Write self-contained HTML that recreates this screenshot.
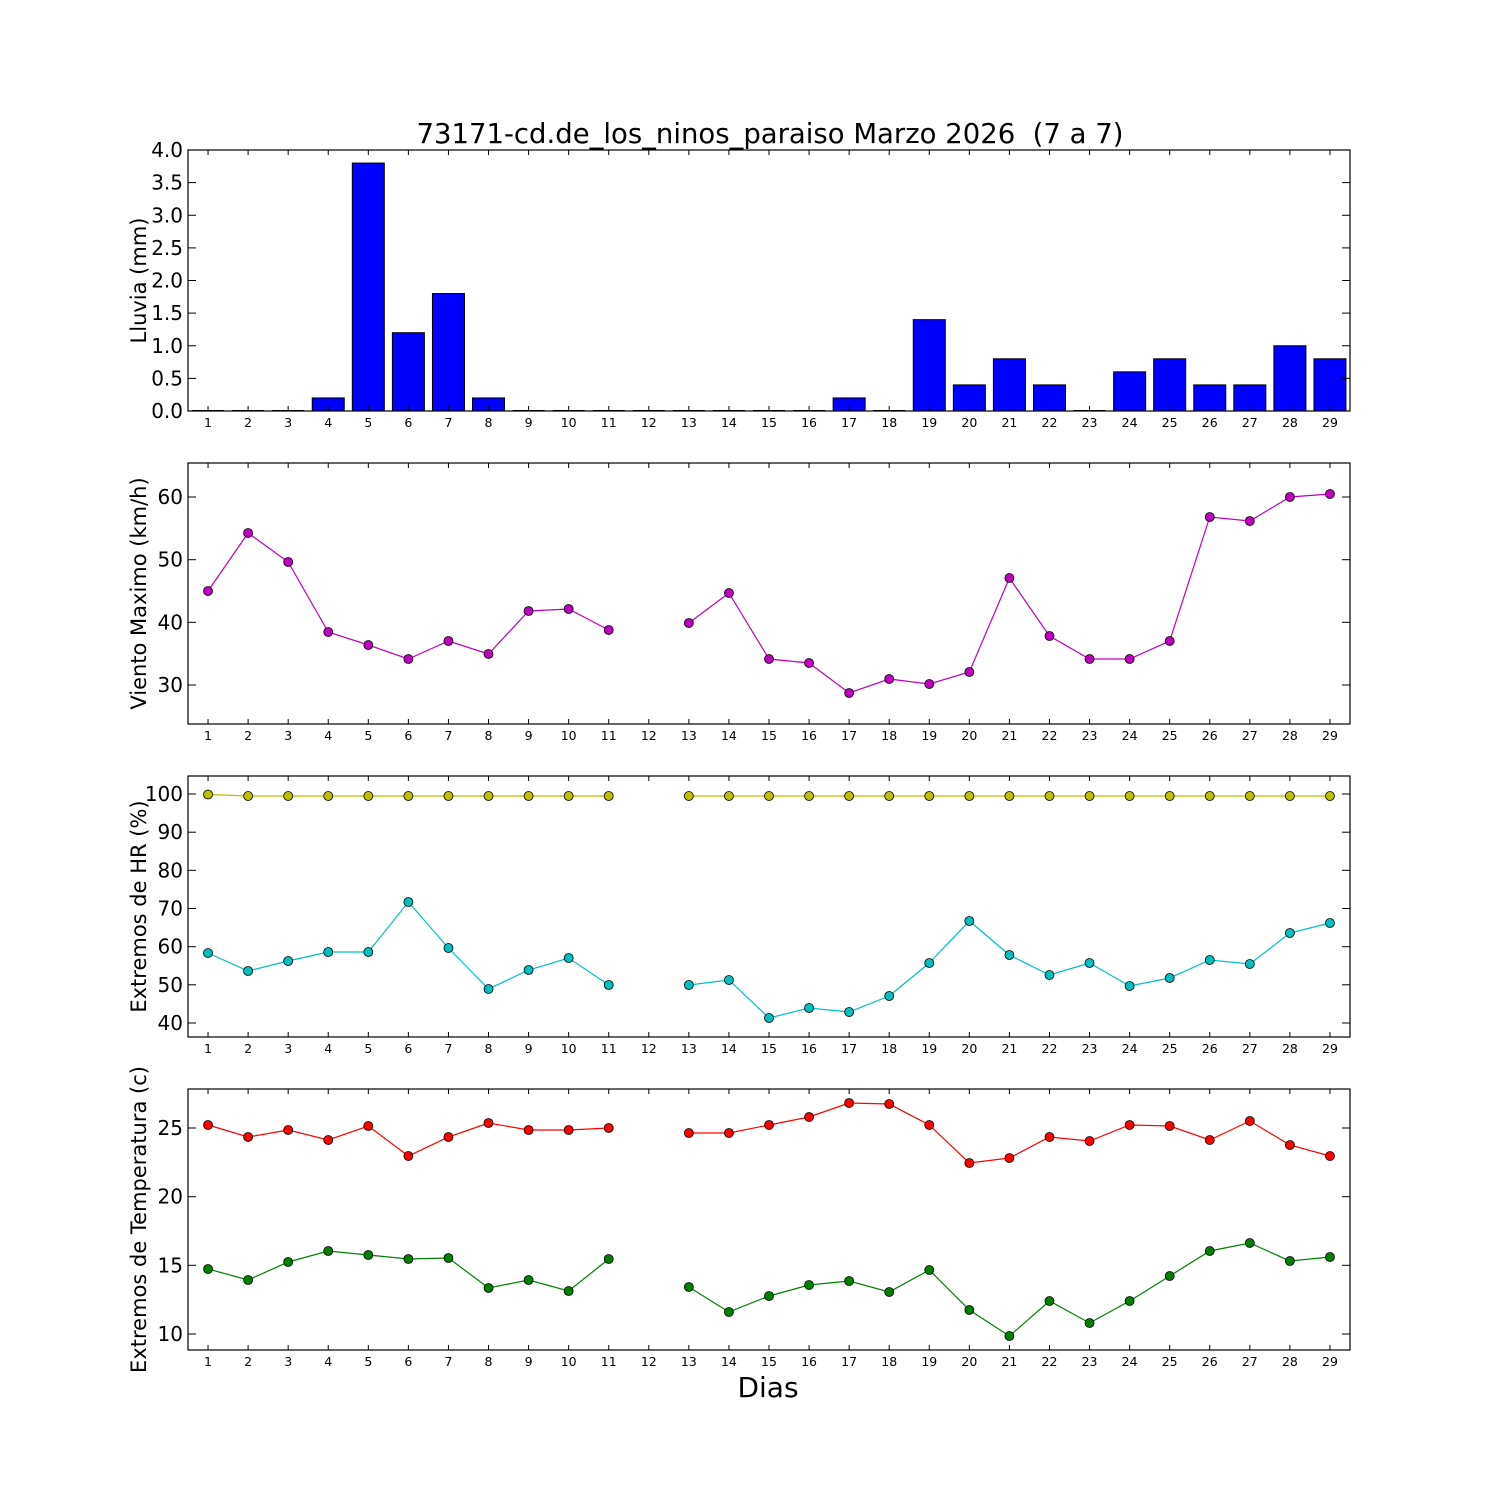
<!DOCTYPE html>
<html><head><meta charset="utf-8"><style>body{margin:0;background:#fff}svg{display:block}</style></head>
<body><svg id="s" width="1500" height="1500" xmlns="http://www.w3.org/2000/svg" font-family="DejaVu Sans, Liberation Sans, sans-serif"></svg>
<script>
var s=document.getElementById('s'),h='';
function X(d){return 188+(d-0.5)*1162/29;}
var panels=[[150,411],[463,724],[776,1037],[1089,1350]];
h+='<text x="770" y="143" font-size="27.5" text-anchor="middle" style="white-space:pre">73171-cd.de_los_ninos_paraiso Marzo 2026&#160; (7 a 7)</text>';
var rain=[0,0,0,0.2,3.8,1.2,1.8,0.2,0,0,0,0,0,0,0,0,0.2,0,1.4,0.4,0.8,0.4,0,0.6,0.8,0.4,0.4,1.0,0.8];
rain.forEach(function(v,i){var x=X(i+1)-16,y=411-v*65.25;if(v==0){h+='<line x1="'+x+'" y1="410.5" x2="'+(x+32)+'" y2="410.5" stroke="#000"/>';}else h+='<rect x="'+x+'" y="'+y+'" width="32" height="'+(411-y)+'" fill="#0000ff" stroke="#000" stroke-width="1"/>';});
function series(arr,panel,col){var seg=[];var out='';var pts=[];
 arr.forEach(function(v,i){if(v==null){if(pts.length)seg.push(pts);pts=[];}else pts.push([X(i+1),v]);});if(pts.length)seg.push(pts);
 seg.forEach(function(sg){out+='<polyline fill="none" stroke="'+col+'" stroke-width="1.2" points="'+sg.map(function(q){return q[0]+','+q[1]}).join(' ')+'"/>';});
 seg.forEach(function(sg){sg.forEach(function(q){out+='<circle cx="'+q[0]+'" cy="'+q[1]+'" r="4.5" fill="'+col+'" stroke="#000" stroke-width="0.8"/>';});});
 h+=out;}
var n=null;
series([591,533,562,632,645,659,641,654,611,609,630,n,623,593,659,663,693,679,684,672,578,636,659,659,641,517,521,497,494],1,'#bf00bf');
series([794.5,796,796,796,796,796,796,796,796,796,796,n,796,796,796,796,796,796,796,796,796,796,796,796,796,796,796,796,796],2,'#bfbf00');
series([953,971,961,952,952,902,948,989,970,958,985,n,985,980,1018,1008,1012,996,963,921,955,975,963,986,978,960,964,933,923],2,'#00bfbf');
series([1125,1137,1130,1140,1126,1156,1137,1123,1130,1130,1128,n,1133,1133,1125,1117,1103,1104,1125,1163,1158,1137,1141,1125,1126,1140,1121,1145,1156],3,'#ff0000');
series([1269,1280,1262,1251,1255,1259,1258,1288,1280,1291,1259,n,1287,1312,1296,1285,1281,1292,1270,1310,1336,1301,1323,1301,1276,1251,1243,1261,1257],3,'#008000');
var yt=[
 [[0,411],[0.5,378.4],[1,345.75],[1.5,313.1],[2,280.5],[2.5,247.9],[3,215.25],[3.5,182.6],[4,150]],
 [[30,685],[40,622.3],[50,559.7],[60,497]],
 [[40,1023],[50,984.8],[60,946.7],[70,908.5],[80,870.3],[90,832.2],[100,794]],
 [[10,1334],[15,1265.3],[20,1196.7],[25,1128]]];
var labs=['Lluvia (mm)','Viento Maximo (km/h)','Extremos de HR (%)','Extremos de Temperatura (c)'];
panels.forEach(function(p,k){
 h+='<rect x="188" y="'+p[0]+'" width="1162" height="'+(p[1]-p[0])+'" fill="none" stroke="#000" stroke-width="1.2"/>';
 for(var d=1;d<=29;d++){var x=X(d);h+='<line x1="'+x+'" y1="'+p[1]+'" x2="'+x+'" y2="'+(p[1]-5)+'" stroke="#000"/><line x1="'+x+'" y1="'+p[0]+'" x2="'+x+'" y2="'+(p[0]+5)+'" stroke="#000"/>';
  h+='<text x="'+x+'" y="'+(p[1]+16)+'" font-size="12.5" text-anchor="middle">'+d+'</text>';}
 yt[k].forEach(function(t){var lab=k==0?t[0].toFixed(1):t[0];h+='<line x1="188" y1="'+t[1]+'" x2="196" y2="'+t[1]+'" stroke="#000"/><line x1="1342" y1="'+t[1]+'" x2="1350" y2="'+t[1]+'" stroke="#000"/>';
  h+='<text x="183" y="'+(t[1]+7)+'" font-size="20" text-anchor="end">'+lab+'</text>';});
 var cy=(p[0]+p[1])/2;h+='<text transform="translate(146,'+cy+') rotate(-90)" font-size="21" text-anchor="middle">'+labs[k]+'</text>';
});
h+='<text x="768" y="1397" font-size="28" text-anchor="middle">Dias</text>';
s.innerHTML=h;
</script></body></html>
